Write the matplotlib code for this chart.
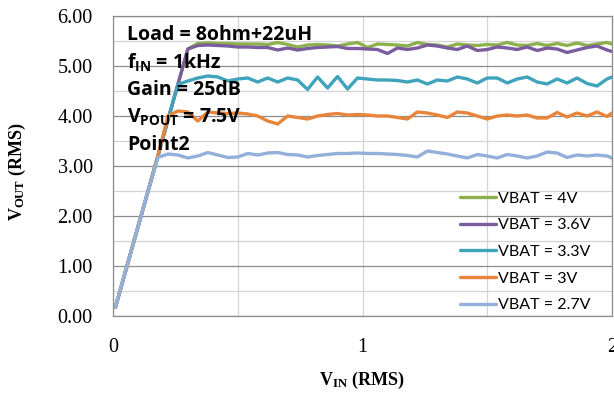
import numpy as np
import matplotlib
matplotlib.use("Agg")
import matplotlib.pyplot as plt
from matplotlib.ticker import MultipleLocator, FormatStrFormatter

plt.rcParams['mathtext.default'] = 'regular'

# ----------------------------
# Data (V_IN in Vrms, V_OUT in Vrms)
# ----------------------------
vin = [0.01, 0.06, 0.10, 0.14, 0.18, 0.22, 0.26, 0.30, 0.34, 0.38, 0.42, 0.46,
       0.50, 0.54, 0.58, 0.62, 0.66, 0.70, 0.74, 0.78, 0.82, 0.86, 0.90, 0.94,
       0.98, 1.02, 1.06, 1.10, 1.14, 1.18, 1.22, 1.26, 1.30, 1.34, 1.38, 1.42,
       1.46, 1.50, 1.54, 1.58, 1.62, 1.66, 1.70, 1.74, 1.78, 1.82, 1.86, 1.90,
       1.94, 1.98, 2.00]

vout_4v0 = [0.18, 1.07, 1.78, 2.49, 3.20, 3.92, 4.63, 5.34, 5.45, 5.46, 5.45, 5.45,
            5.44, 5.44, 5.44, 5.43, 5.47, 5.43, 5.38, 5.42, 5.43, 5.42, 5.40, 5.44,
            5.47, 5.37, 5.44, 5.43, 5.42, 5.40, 5.47, 5.43, 5.42, 5.38, 5.44, 5.42,
            5.41, 5.43, 5.42, 5.47, 5.42, 5.41, 5.45, 5.41, 5.45, 5.41, 5.46, 5.41,
            5.44, 5.47, 5.44]

vout_3v6 = [0.18, 1.07, 1.78, 2.49, 3.20, 3.92, 4.63, 5.34, 5.41, 5.42, 5.41, 5.40,
            5.38, 5.38, 5.37, 5.37, 5.32, 5.36, 5.32, 5.35, 5.37, 5.38, 5.39, 5.35,
            5.35, 5.34, 5.33, 5.25, 5.36, 5.33, 5.36, 5.42, 5.40, 5.36, 5.33, 5.40,
            5.31, 5.33, 5.38, 5.36, 5.33, 5.38, 5.31, 5.36, 5.34, 5.27, 5.32, 5.37,
            5.40, 5.32, 5.29]

vout_3v3 = [0.18, 1.07, 1.78, 2.49, 3.20, 3.92, 4.63, 4.70, 4.76, 4.80, 4.78, 4.70,
            4.74, 4.76, 4.68, 4.76, 4.68, 4.76, 4.72, 4.53, 4.78, 4.56, 4.79, 4.54,
            4.76, 4.74, 4.72, 4.72, 4.71, 4.68, 4.72, 4.64, 4.72, 4.70, 4.78, 4.74,
            4.66, 4.76, 4.76, 4.66, 4.74, 4.78, 4.68, 4.64, 4.74, 4.66, 4.76, 4.65,
            4.60, 4.74, 4.78]

vout_3v0 = [0.18, 1.07, 1.78, 2.49, 3.20, 4.00, 4.10, 4.08, 3.90, 4.08, 4.06, 4.05,
            4.06, 4.04, 4.00, 3.90, 3.84, 4.00, 3.97, 3.94, 4.00, 4.03, 4.05, 4.02,
            4.03, 4.02, 4.00, 4.00, 3.97, 3.94, 4.08, 4.06, 4.02, 3.97, 4.08, 4.06,
            4.00, 3.94, 4.00, 4.02, 4.00, 4.02, 3.96, 3.96, 4.07, 3.98, 4.06, 4.00,
            4.08, 3.99, 4.06]

vout_2v7 = [0.18, 1.07, 1.78, 2.49, 3.17, 3.24, 3.22, 3.16, 3.20, 3.27, 3.22, 3.17,
            3.18, 3.25, 3.22, 3.26, 3.27, 3.23, 3.22, 3.18, 3.21, 3.23, 3.25, 3.25,
            3.26, 3.25, 3.25, 3.24, 3.23, 3.21, 3.18, 3.30, 3.27, 3.24, 3.20, 3.16,
            3.23, 3.20, 3.16, 3.23, 3.20, 3.16, 3.20, 3.28, 3.26, 3.17, 3.22, 3.20,
            3.22, 3.20, 3.16]

labels = ['VBAT = 4V', 'VBAT = 3.6V', 'VBAT = 3.3V', 'VBAT = 3V', 'VBAT = 2.7V']
colors = ['#8BB04C', '#7B5C9F', '#3FA3BC', '#E8853A', '#92B0D9']
series = [vout_4v0, vout_3v6, vout_3v3, vout_3v0, vout_2v7]

note_lines = ['Load = 8ohm+22uH', 'f$_{IN}$ = 1kHz', 'Gain = 25dB',
              'V$_{POUT}$ = 7.5V', 'Point2']

# ----------------------------
# Figure
# ----------------------------
fig = plt.figure(figsize=(6.14, 3.94), dpi=100)
ax = fig.add_axes([113 / 614, 1 - 316 / 394, 499 / 614, 300 / 394])

for y, lab, col in zip(series, labels, colors):
    ax.plot(vin, y, color=col, lw=2.4, label=lab, solid_capstyle='round',
            solid_joinstyle='round')

ax.set_xlim(0, 2)
ax.set_ylim(0, 6)
ax.xaxis.set_major_locator(MultipleLocator(1))
ax.xaxis.set_minor_locator(MultipleLocator(0.5))
ax.yaxis.set_major_locator(MultipleLocator(1))
ax.yaxis.set_minor_locator(MultipleLocator(0.5))
ax.yaxis.set_major_formatter(FormatStrFormatter('%.2f'))
ax.xaxis.set_major_formatter(FormatStrFormatter('%d'))

ax.grid(True, which='major', axis='y', color='#8C8C8C', lw=0.9)
ax.grid(True, which='minor', axis='y', color='#D4D4D4', lw=0.9)
ax.grid(True, which='both', axis='x', color='#D4D4D4', lw=0.9)
ax.set_axisbelow(True)
for s in ax.spines.values():
    s.set_color('#8C8C8C')
    s.set_linewidth(0.9)

ax.tick_params(which='both', length=0)
ax.tick_params(axis='y', pad=14.5)
ax.tick_params(axis='x', pad=16)
for t in ax.get_xticklabels() + ax.get_yticklabels():
    t.set_fontfamily('Liberation Serif')
    t.set_fontsize(14.5)

fig.text(362 / 614, 1 - 380 / 394, 'V$_{IN}$ (RMS)', ha='center', va='center',
         fontfamily='Liberation Serif', fontweight='bold', fontsize=13)
fig.text(17 / 614, 1 - 172 / 394, 'V$_{OUT}$ (RMS)', ha='center', va='center',
         rotation=90, fontfamily='Liberation Serif', fontweight='bold',
         fontsize=13)

for i, line in enumerate(note_lines):
    fig.text(127 / 614, 1 - (35 + 27.5 * i) / 394, line, ha='left', va='center',
             fontfamily='Open Sans', fontweight='bold', fontsize=14)

leg = ax.legend(loc='lower right', bbox_to_anchor=((592 - 113) / 499, 0.007),
                frameon=False, prop={'family': 'Lato', 'size': 11.5},
                handlelength=2.3, handletextpad=0.1, labelspacing=0.78,
                borderaxespad=0.0, borderpad=0.1)

fig.savefig('out.png', dpi=100)
